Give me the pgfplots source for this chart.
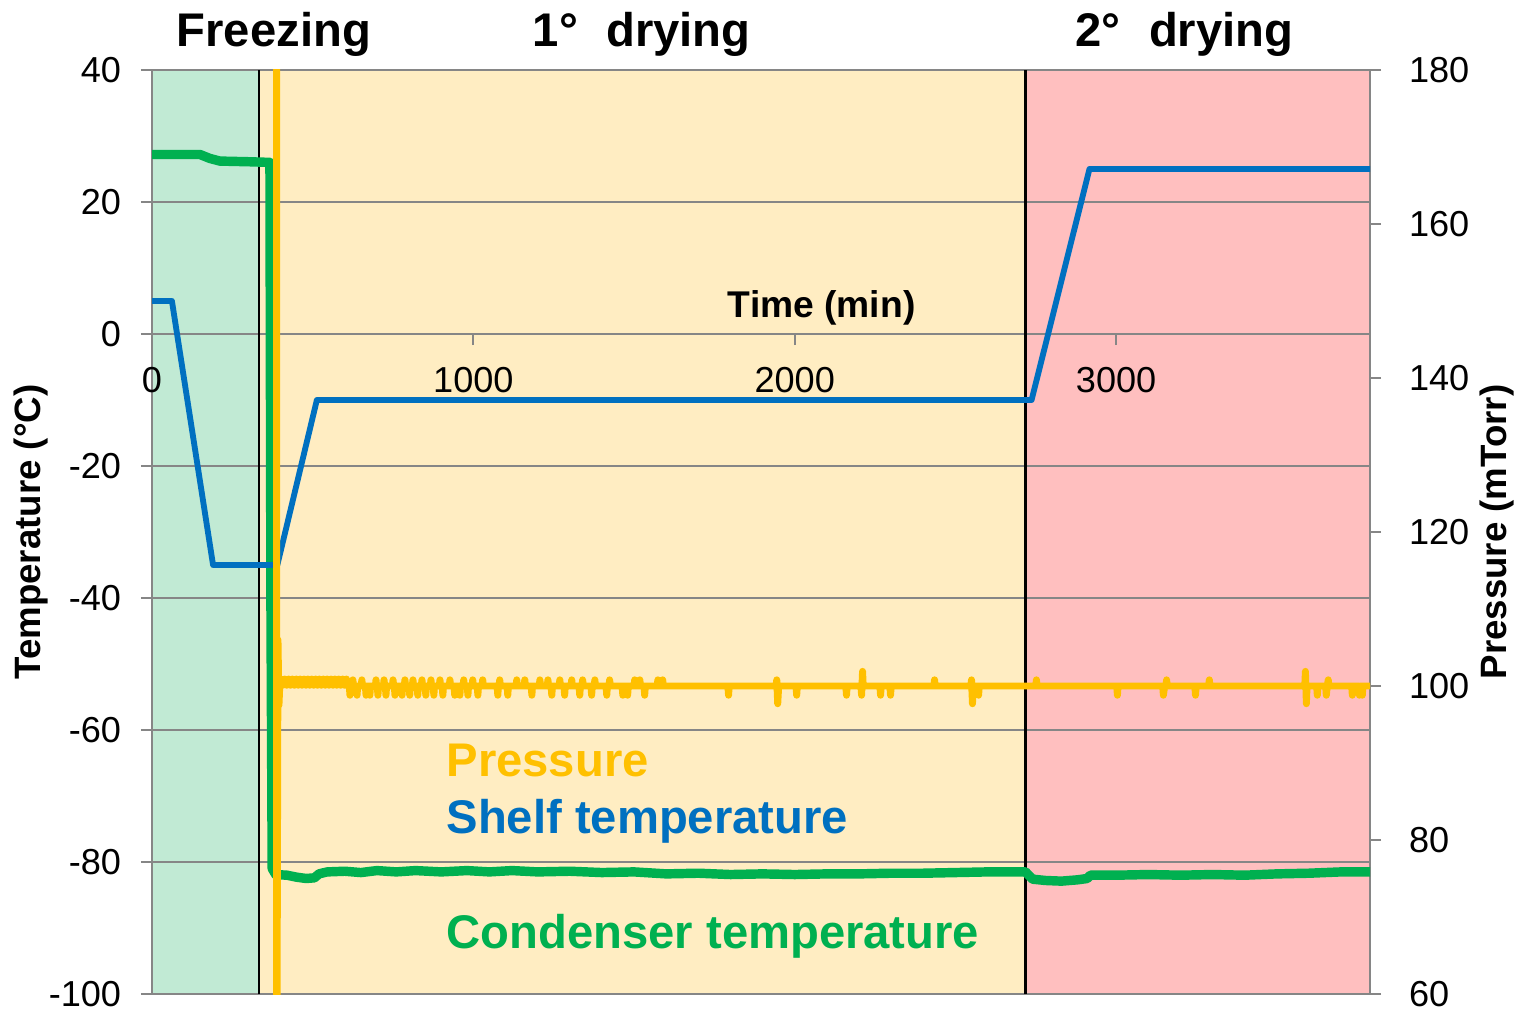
\documentclass[border=0pt]{standalone}
\usepackage{fontspec}
\setmainfont{Liberation Sans}
\usepackage{pgfplots}
\pgfplotsset{compat=1.18}

\definecolor{frz}{RGB}{193,234,212}
\definecolor{pri}{RGB}{255,237,194}
\definecolor{sec}{RGB}{255,191,191}
\definecolor{shelf}{RGB}{0,112,192}
\definecolor{cond}{RGB}{0,176,80}
\definecolor{pres}{RGB}{255,192,0}
\definecolor{gridc}{RGB}{134,134,134}

\begin{document}
\begin{tikzpicture}
\pgfplotsset{set layers}
\begin{axis}[name=ax, scale only axis, width=438.48pt, height=332.64pt,
  xmin=0, xmax=3790, ymin=-100, ymax=40,
  axis x line*=middle, axis y line*=left,
  xtick={0,1000,2000,3000}, ytick={-100,-80,...,40},
  ymajorgrids, grid style={gridc, line width=0.7pt},
  axis line style={gridc, line width=0.8pt},
  tick style={gridc, line width=0.7pt}, major tick length=4pt, tick align=outside,
  hide obscured x ticks=false,
  tick label style={font=\fontsize{13}{15}\selectfont},
  yticklabel style={xshift=-3.6pt},
  xticklabel style={yshift=-4.3pt},
  /pgf/number format/assume math mode=true,
  /pgf/number format/1000 sep={},
  ylabel={Temperature (°C)},
  ylabel style={font=\fontsize{13.2}{15}\selectfont\bfseries, at={(axis description cs:-0.0994,0.5)}, anchor=center},
  clip mode=individual]

\addplot[fill=frz, draw=none, on layer=axis background, forget plot] coordinates {(0,-100)(333,-100)(333,40)(0,40)} -- cycle;
\addplot[fill=pri, draw=none, on layer=axis background, forget plot] coordinates {(333,-100)(2718,-100)(2718,40)(333,40)} -- cycle;
\addplot[fill=sec, draw=none, on layer=axis background, forget plot] coordinates {(2718,-100)(3790,-100)(3790,40)(2718,40)} -- cycle;

\addplot[black, line width=0.9pt, forget plot] coordinates {(333,-100)(333,40)};
\addplot[black, line width=0.9pt, forget plot] coordinates {(2718,-100)(2718,40)};

% Condenser temperature
\addplot[cond, line width=3.4pt, line join=round, line cap=round] coordinates {
(0,27.2)(149,27.2)(180,26.6)(211,26.2)(300,26.1)(367,26.0)(370,-40)(374,-81)
(385,-81.9)(420,-82.0)(450,-82.3)(480,-82.5)(505,-82.4)(520,-81.8)(545,-81.5)
(600,-81.4)(650,-81.6)(700,-81.3)(760,-81.5)(820,-81.3)(900,-81.5)(980,-81.3)
(1050,-81.5)(1120,-81.3)(1200,-81.5)(1300,-81.4)(1400,-81.6)(1500,-81.5)
(1600,-81.8)(1700,-81.7)(1800,-81.9)(1900,-81.8)(2000,-81.9)(2100,-81.8)
(2200,-81.8)(2300,-81.7)(2400,-81.7)(2500,-81.6)(2600,-81.5)(2718,-81.5)
(2740,-82.6)(2780,-82.8)(2830,-82.9)(2880,-82.7)(2910,-82.5)(2920,-82.0)
(3000,-82.0)(3100,-81.9)(3200,-82.0)(3300,-81.9)(3400,-82.0)(3500,-81.8)
(3600,-81.7)(3700,-81.5)(3790,-81.5)};

% Shelf temperature
\addplot[shelf, line width=2.1pt, line join=round] coordinates {
(0,5)(62,5)(190,-35)(390,-35)(513,-10)(2737,-10)(2917,25)(3790,25)};

\node[anchor=base, font=\fontsize{17}{20}\selectfont\bfseries, yshift=8.3pt] at (axis cs:379,40) {Freezing};
\node[anchor=base, font=\fontsize{17}{20}\selectfont\bfseries, yshift=8.3pt] at (axis cs:1524,40) {1°\hspace{0.6em}drying};
\node[anchor=base, font=\fontsize{17}{20}\selectfont\bfseries, yshift=8.3pt] at (axis cs:3213,40) {2°\hspace{0.6em}drying};
\node[anchor=base, font=\fontsize{13.4}{16}\selectfont\bfseries] at (axis cs:2084,2.5) {Time (min)};

\node[anchor=base west, font=\fontsize{17}{20}\selectfont\bfseries, text=pres] at (axis cs:886,-67.0) {Pressure};
\node[anchor=base west, font=\fontsize{17}{20}\selectfont\bfseries, text=shelf] at (axis cs:886,-75.7) {Shelf temperature};
\node[anchor=base west, font=\fontsize{17}{20}\selectfont\bfseries, text=cond] at (axis cs:886,-93.05) {Condenser temperature};
\end{axis}

\begin{axis}[scale only axis, width=438.48pt, height=332.64pt,
  at={(ax.south west)}, anchor=south west,
  xmin=0, xmax=3790, ymin=60, ymax=180, ytick={60,80,...,180},
  axis y line*=right, axis x line=none,
  axis line style={gridc, line width=0.8pt},
  tick style={gridc, line width=0.7pt}, major tick length=4pt, tick align=outside,
  tick label style={font=\fontsize{13}{15}\selectfont},
  yticklabel style={xshift=6.5pt},
  /pgf/number format/assume math mode=true,
  ylabel={Pressure (mTorr)},
  ylabel style={font=\fontsize{13.2}{15}\selectfont\bfseries, at={(axis description cs:1.1042,0.5)}, anchor=center, rotate=0}]

\addplot[pres, line width=2.5pt, line join=round] coordinates {
(388,200)(388,40)(392,106)(395,97.5)(398,100.5)
(401,100.9)(407,100.1)(413,100.9)(419,100.1)(425,100.9)(431,100.1)(437,100.9)(443,100.1)
(449,100.9)(455,100.1)(461,100.9)(467,100.1)(473,100.9)(479,100.1)(485,100.9)(491,100.1)
(497,100.9)(503,100.1)(509,100.9)(515,100.1)(521,100.9)(527,100.1)(533,100.9)(539,100.1)
(545,100.9)(551,100.1)(557,100.9)(563,100.1)(569,100.9)(575,100.1)(581,100.9)(587,100.1)
(593,100.9)(599,100.1)(605,100.9)(610,100)
(614,100)(616,98.8)(618,100)(623,100)(625,100.8)(627,100)
(636,100)(638,98.8)(640,100)(651,100)(653,100.8)(655,100)
(664,100)(666,98.8)(668,100)(676,100)(678,98.8)(680,100)
(695,100)(697,100.8)(699,100)(701,100)(703,98.8)(705,100)
(720,100)(722,100.8)(724,100)(726,100)(728,98.8)(730,100)
(748,100)(750,100.8)(752,100)(754,100)(756,98.8)(758,100)
(776,100)(778,98.8)(780,100)(785,100)(787,100.8)(789,100)
(800,100)(802,98.8)(804,100)(810,100)(812,100.8)(814,100)
(825,100)(827,98.8)(829,100)(838,100)(840,100.8)(842,100)
(850,100)(852,98.8)(854,100)(866,100)(868,100.8)(870,100)
(875,100)(877,98.8)(879,100)(894,100)(896,100.8)(898,100)
(903,100)(905,98.8)(907,100)(925,100)(927,100.8)(929,100)
(940,100)(942,98.8)(944,100)(956,100)(958,98.8)(960,100)
(968,100)(970,100.8)(972,100)(981,100)(983,98.8)(985,100)
(996,100)(998,100.8)(1000,100)(1012,100)(1014,98.8)(1016,100)
(1027,100)(1029,100.8)(1031,100)(1074,100)(1076,98.8)(1078,100)
(1080,100)(1082,100.8)(1084,100)(1105,100)(1107,98.8)(1109,100)
(1133,100)(1135,100.8)(1137,100)(1158,100)(1160,100.8)(1162,100)
(1180,100)(1182,98.8)(1184,100)(1205,100)(1207,100.8)(1209,100)
(1230,100)(1232,100.8)(1234,100)(1242,100)(1244,98.8)(1246,100)
(1267,100)(1269,100.8)(1271,100)(1282,100)(1284,98.8)(1286,100)
(1304,100)(1306,100.8)(1308,100)(1329,100)(1331,98.8)(1333,100)
(1338,100)(1340,100.8)(1342,100)(1366,100)(1368,98.8)(1370,100)
(1376,100)(1378,100.8)(1380,100)(1413,100)(1415,98.8)(1417,100)
(1422,100)(1424,100.8)(1426,100)(1463,100)(1465,98.8)(1467,100)
(1478,100)(1480,98.8)(1482,100)(1500,100)(1502,100.8)(1504,100)
(1516,100)(1518,100.8)(1520,100)(1531,100)(1533,98.8)(1535,100)
(1572,100)(1574,100.8)(1576,100)(1587,100)(1589,100.8)(1591,100)
(1792,100)(1794,98.8)(1796,100)
(1942,100)(1944,100.8)(1947,97.7)(1950,100)
(2004,100)(2006,98.8)(2008,100)
(2159,100)(2161,98.8)(2163,100)
(2206,100)(2208,98.8)(2211,101.9)(2213,100)
(2265,100)(2267,98.8)(2269,100)
(2296,100)(2298,98.8)(2300,100)
(2433,100)(2435,100.8)(2437,100)
(2548,100)(2550,100.8)(2553,97.7)(2555,100)
(2570,100)(2572,98.8)(2574,100)
(2750,100)(2752,100.8)(2754,100)
(3002,100)(3004,98.8)(3006,100)
(3145,100)(3147,98.8)(3151,100)(3155,100)(3157,100.8)(3159,100)
(3245,100)(3247,98.8)(3249,100)
(3288,100)(3290,100.8)(3292,100)
(3587,100)(3589,101.9)(3592,97.7)(3594,100)
(3624,100)(3626,98.8)(3628,100)
(3652,100)(3654,98.8)(3657,100)(3660,100.8)(3662,100)
(3733,100)(3735,98.8)(3737,100)
(3755,100)(3757,98.8)(3760,100)(3764,100)(3766,98.8)(3768,100)
(3791,100)};
\end{axis}

\pgfresetboundingbox
\path ([xshift=-54.72pt,yshift=-6.12pt]ax.south west) rectangle ([xshift=54.72pt,yshift=25.2pt]ax.north east);
\end{tikzpicture}
\end{document}
